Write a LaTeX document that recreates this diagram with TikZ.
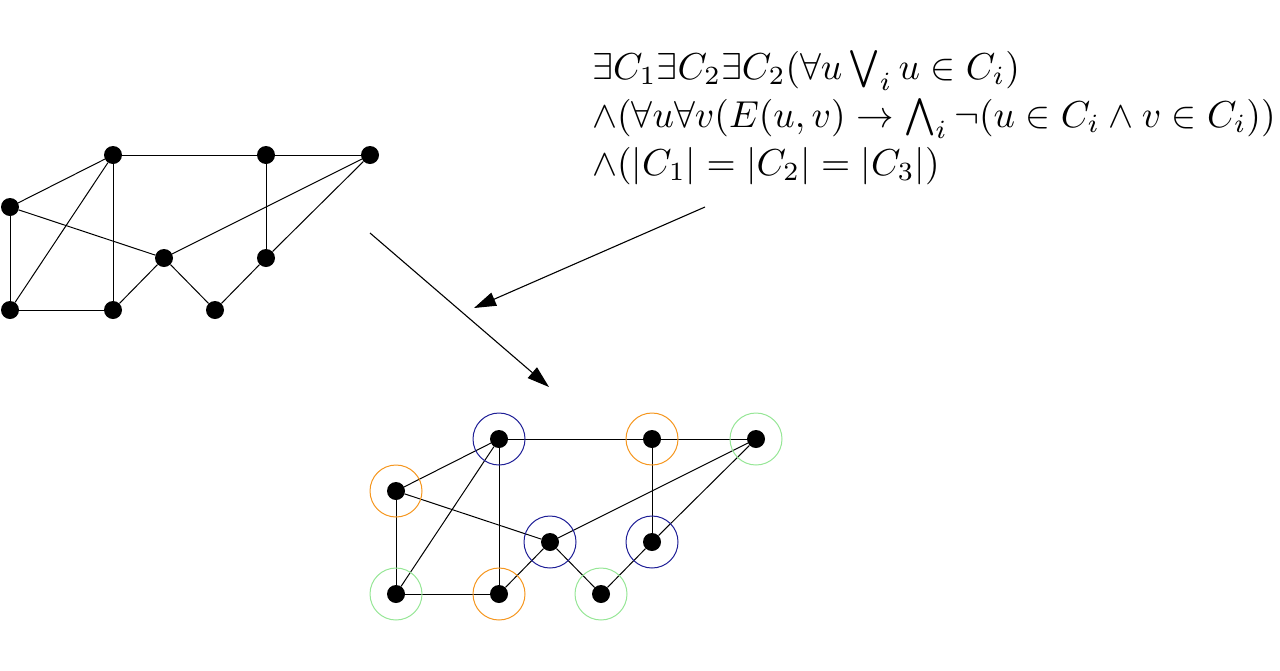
\documentclass[tikz,border=0pt]{standalone}
\usepackage{amsmath}
\usetikzlibrary{arrows.meta}
\begin{document}
\begin{tikzpicture}[x=1pt,y=-1pt,
  dot/.style={circle,fill=black,inner sep=0pt,minimum size=18pt},
  ring/.style={circle,draw,line width=1pt,minimum size=52pt,inner sep=0pt},
  edge/.style={line width=1pt},
  formula/.style={anchor=base west,inner sep=0pt},
  bigarrow/.style={line width=1.1pt,-{Triangle[length=22pt,width=14pt]}}]
\useasboundingbox (0,0) rectangle (1280,670);
\definecolor{rb}{RGB}{30,30,150}
\definecolor{ro}{RGB}{245,150,30}
\definecolor{rg}{RGB}{150,230,150}
\foreach \n/\x/\y in {A/113/155,B/266/155,C/370/155,D/10/207,E/164/258,F/266/258,G/10/310,H/113/310,I/215/310}{
  \node[dot] (t\n) at (\x,\y) {};
  \node[dot] (b\n) at (\x+386,\y+284) {};
}
\foreach \a/\b in {D/A,A/B,B/C,A/G,A/H,D/G,D/E,G/H,H/E,E/I,I/F,F/B,E/C,F/C}{
  \draw[edge] (t\a) -- (t\b);
  \draw[edge] (b\a) -- (b\b);
}
\foreach \n/\c in {A/rb,B/ro,C/rg,D/ro,E/rb,F/rb,G/rg,H/ro,I/rg}{
  \node[ring,draw=\c] (r\n) at (b\n) {};
}
\coordinate (s1) at (370,233); \coordinate (e1) at (549,387);
\coordinate (s2) at (705,207); \coordinate (e2) at (474,308);
\draw[bigarrow] (s1) -- (e1);
\draw[bigarrow] (s2) -- (e2);
\node[formula] (f1) at (592,79) {\scalebox{3.75}{$\exists C_1\exists C_2\exists C_2(\forall u\bigvee_i u\in C_i)$}};
\node[formula] (f2) at (592,127) {\scalebox{3.75}{$\wedge(\forall u\forall v(E(u,v)\rightarrow\bigwedge_i\neg(u\in C_i\wedge v\in C_i))$}};
\node[formula] (f3) at (592,175) {\scalebox{3.75}{$\wedge(|C_1|=|C_2|=|C_3|)$}};
\end{tikzpicture}
\end{document}
